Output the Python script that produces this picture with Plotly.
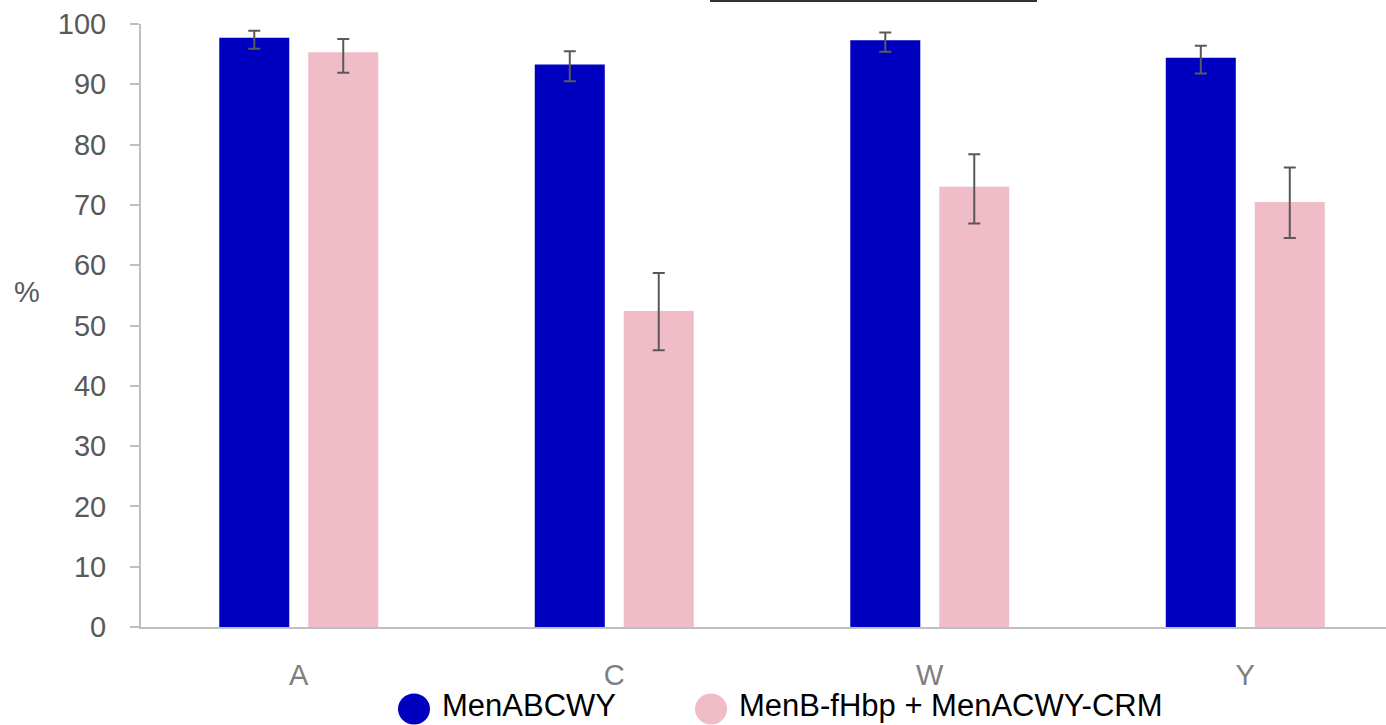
import plotly.graph_objects as go

categories = ["A", "C", "W", "Y"]
series_names = ["MenABCWY", "MenB-fHbp + MenACWY-CRM"]
menabcwy = [97.7, 93.3, 97.3, 94.4]
menabcwy_lo = [95.9, 90.5, 95.4, 91.8]
menabcwy_hi = [98.9, 95.5, 98.6, 96.4]
menb_acwy = [95.3, 52.4, 73.0, 70.5]
menb_acwy_lo = [91.9, 45.9, 66.9, 64.5]
menb_acwy_hi = [97.5, 58.7, 78.4, 76.2]
y_ticks = [0, 10, 20, 30, 40, 50, 60, 70, 80, 90, 100]
y_label = "%"

colors = ["#0000C0", "#F0BCC8"]
FONT = "Liberation Sans, Arial, sans-serif"
W, H = 1386, 725
L, R, T, B = 141, 0, 24, 98
pw, ph = W - L - R, H - T - B


def err(vals, lo, hi):
    return dict(type="data", symmetric=False,
                array=[h - v for v, h in zip(vals, hi)],
                arrayminus=[v - l for v, l in zip(vals, lo)],
                color="#595959", thickness=2, width=6)


fig = go.Figure()
for name, vals, lo, hi, c in [
    (series_names[0], menabcwy, menabcwy_lo, menabcwy_hi, colors[0]),
    (series_names[1], menb_acwy, menb_acwy_lo, menb_acwy_hi, colors[1]),
]:
    fig.add_trace(go.Bar(x=categories, y=vals, name=name, marker_color=c,
                         marker_line_width=0, error_y=err(vals, lo, hi),
                         showlegend=False))


def px_x(p):
    return (p - L) / pw


def px_y(p):
    return (H - B - p) / ph


# Manual legend
legend_items = [(414, 709, 441), (711, 709, 738)]
for (cx, cy, tx), name, c in zip(legend_items, series_names, colors):
    fig.add_shape(type="circle", xref="paper", yref="paper",
                  xsizemode="pixel", ysizemode="pixel",
                  xanchor=px_x(cx), yanchor=px_y(cy),
                  x0=-16, x1=16, y0=-15.5, y1=15.5,
                  fillcolor=c, line_width=0)
    fig.add_annotation(xref="paper", yref="paper", x=px_x(tx), y=px_y(724),
                       xanchor="left", yanchor="bottom", showarrow=False,
                       borderpad=0,
                       text=name, font=dict(family=FONT, size=31, color="#000000"))

# y axis title
fig.add_annotation(xref="paper", yref="paper", x=px_x(27), y=px_y(292),
                   xanchor="center", yanchor="middle", showarrow=False,
                   text=y_label, font=dict(family=FONT, size=29, color="#595959"))

# cut-off title underline at the top
fig.add_shape(type="line", xref="paper", yref="paper",
              x0=px_x(710), x1=px_x(1037), y0=px_y(1), y1=px_y(1),
              line=dict(color="#303030", width=2))

fig.update_layout(
    width=W, height=H,
    margin=dict(l=L, r=R, t=T, b=B, pad=0),
    paper_bgcolor="white", plot_bgcolor="white",
    barmode="group", bargap=0.436, bargroupgap=0.213,
    font=dict(family=FONT),
    xaxis=dict(range=[-0.5, 3.446], showgrid=False, showline=True,
               linecolor="#BFBFBF", linewidth=2, ticks="",
               tickfont=dict(family=FONT, size=29, color="#7F7F7F"),
               ticklabelstandoff=21, zeroline=False),
    yaxis=dict(range=[0, 100], tickvals=y_ticks, showgrid=False, showline=True,
               linecolor="#BFBFBF", linewidth=2, ticks="outside", ticklen=9,
               tickcolor="#BFBFBF", tickwidth=2,
               tickfont=dict(family=FONT, size=29, color="#595959"),
               ticklabelstandoff=18, zeroline=False),
)

fig.write_html("out.html",
               config={"displayModeBar": False},
               post_script="document.body.style.margin='0';"
                           "document.body.style.overflow='hidden';")
